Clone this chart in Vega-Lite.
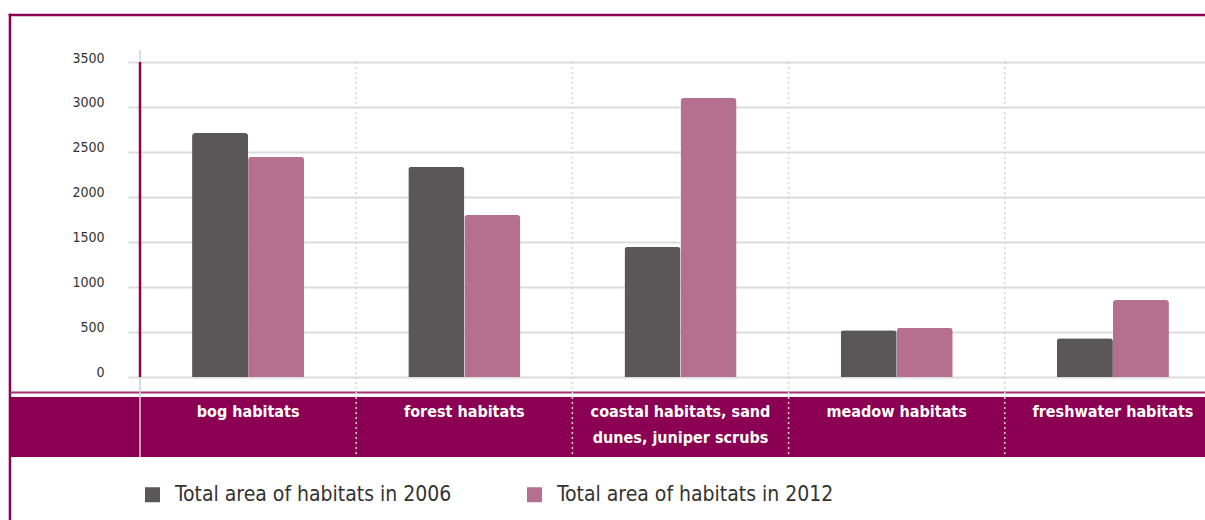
{
  "$schema": "https://vega.github.io/schema/vega-lite/v6.json",
  "autosize": {"type": "none"},
  "padding": {"left": 140, "top": 62, "right": 0, "bottom": 63},
  "width": 1065,
  "height": 395,
  "background": "white",
  "config": {
    "view": {"stroke": null},
    "font": "Liberation Sans Narrow, DejaVu Sans Condensed, sans-serif"
  },
  "resolve": {"scale": {"x": "independent"}, "axis": {"x": "independent"}},
  "datasets": {
    "bars": [
      {"category": "bog habitats", "series": "Total area of habitats in 2006", "value": 2710},
      {"category": "bog habitats", "series": "Total area of habitats in 2012", "value": 2445},
      {"category": "forest habitats", "series": "Total area of habitats in 2006", "value": 2335},
      {"category": "forest habitats", "series": "Total area of habitats in 2012", "value": 1800},
      {"category": "coastal habitats, sand dunes, juniper scrubs", "series": "Total area of habitats in 2006", "value": 1445},
      {"category": "coastal habitats, sand dunes, juniper scrubs", "series": "Total area of habitats in 2012", "value": 3100},
      {"category": "meadow habitats", "series": "Total area of habitats in 2006", "value": 520},
      {"category": "meadow habitats", "series": "Total area of habitats in 2012", "value": 545},
      {"category": "freshwater habitats", "series": "Total area of habitats in 2006", "value": 430},
      {"category": "freshwater habitats", "series": "Total area of habitats in 2012", "value": 855}
    ],
    "cats": [
      {"category": "bog habitats", "label": "bog habitats"},
      {"category": "forest habitats", "label": "forest habitats"},
      {"category": "coastal habitats, sand dunes, juniper scrubs", "label": "coastal habitats, sand\ndunes, juniper scrubs"},
      {"category": "meadow habitats", "label": "meadow habitats"},
      {"category": "freshwater habitats", "label": "freshwater habitats"}
    ],
    "one": [{"k": 1}]
  },
  "layer": [
    {
      "data": {"name": "one"},
      "mark": {"type": "rule", "color": "#8b0052", "strokeWidth": 2.5, "strokeCap": "square"},
      "encoding": {
        "x": {"datum": -0.1221, "type": "quantitative", "scale": {"domain": [0, 1], "nice": false, "zero": false}, "axis": null},
        "x2": {"datum": 1},
        "y": {"datum": 4022, "type": "quantitative", "scale": {"domain": [-888.9, 3500], "nice": false, "zero": false}}
      }
    },
    {
      "data": {"name": "one"},
      "mark": {"type": "rule", "color": "#8b0052", "strokeWidth": 2.5, "strokeCap": "square"},
      "encoding": {
        "x": {"datum": -0.1221, "type": "quantitative", "scale": {"domain": [0, 1], "nice": false, "zero": false}, "axis": null},
        "y": {"datum": 4022, "type": "quantitative"},
        "y2": {"datum": -1578}
      }
    },
    {
      "data": {"name": "one"},
      "mark": {"type": "rect", "color": "#8b0052"},
      "encoding": {
        "x": {"datum": -0.1221, "type": "quantitative", "scale": {"domain": [0, 1], "nice": false, "zero": false}, "axis": null},
        "x2": {"datum": 1},
        "y": {"datum": -222.2, "type": "quantitative"},
        "y2": {"datum": -888.9}
      }
    },
    {
      "data": {"name": "one"},
      "mark": {"type": "rule", "color": "#a3336f", "strokeWidth": 2},
      "encoding": {
        "x": {"datum": -0.1221, "type": "quantitative", "scale": {"domain": [0, 1], "nice": false, "zero": false}, "axis": null},
        "x2": {"datum": 1},
        "y": {"datum": -172.2, "type": "quantitative"}
      }
    },
    {
      "data": {"name": "bars"},
      "mark": {"type": "bar", "cornerRadiusTopLeft": 3, "cornerRadiusTopRight": 3},
      "encoding": {
        "x": {"field": "category", "type": "nominal", "axis": null,
              "scale": {"domain": ["bog habitats", "forest habitats", "coastal habitats, sand dunes, juniper scrubs", "meadow habitats", "freshwater habitats"], "paddingInner": 0, "paddingOuter": 0, "range": [0, 1081]}},
        "xOffset": {"field": "series", "type": "nominal", "scale": {"paddingInner": 0, "paddingOuter": 0.93}},
        "y": {
          "field": "value", "type": "quantitative", "title": null,
          "axis": {
            "values": [0, 500, 1000, 1500, 2000, 2500, 3000, 3500],
            "format": "d",
            "domain": false,
            "grid": true, "gridColor": "#dcdcdc", "gridWidth": 2,
            "ticks": true, "tickColor": "#dcdcdc", "tickWidth": 2, "tickSize": 12,
            "labelPadding": 24, "labelFontSize": 14, "labelColor": "#333333",
            "labelBaseline": "alphabetic", "labelFont": "Liberation Sans Narrow, DejaVu Sans Condensed, sans-serif"
          }
        },
        "color": {
          "field": "series", "type": "nominal",
          "scale": {"domain": ["Total area of habitats in 2006", "Total area of habitats in 2012"], "range": ["#5b5657", "#b5708f"]},
          "legend": {
            "title": null, "orient": "none", "legendX": 2, "legendY": 422,
            "direction": "horizontal", "symbolType": "square", "symbolSize": 225,
            "symbolStrokeWidth": 0, "labelFontSize": 21, "labelColor": "#333333",
            "labelFont": "Liberation Sans Narrow, DejaVu Sans Condensed, sans-serif",
            "labelOffset": 12, "labelLimit": 0, "columnPadding": 72
          }
        }
      }
    },
    {
      "data": {"name": "cats"},
      "transform": [{"filter": "datum.category != 'bog habitats'"}],
      "mark": {"type": "rule", "color": "#d5d5d5", "strokeWidth": 1.5, "strokeDash": [2, 3]},
      "encoding": {
        "x": {"field": "category", "type": "nominal", "bandPosition": 0, "axis": null,
              "scale": {"domain": ["bog habitats", "forest habitats", "coastal habitats, sand dunes, juniper scrubs", "meadow habitats", "freshwater habitats"], "paddingInner": 0, "paddingOuter": 0, "range": [0, 1081]}},
        "y": {"datum": 3500, "type": "quantitative"},
        "y2": {"datum": -888.9}
      }
    },
    {
      "data": {"name": "cats"},
      "transform": [{"filter": "datum.category == 'bog habitats'"}],
      "mark": {"type": "rule", "color": "#d0d0d0", "strokeWidth": 1.5},
      "encoding": {
        "x": {"field": "category", "type": "nominal", "bandPosition": 0, "axis": null,
              "scale": {"domain": ["bog habitats", "forest habitats", "coastal habitats, sand dunes, juniper scrubs", "meadow habitats", "freshwater habitats"], "paddingInner": 0, "paddingOuter": 0, "range": [0, 1081]}},
        "y": {"datum": 3633, "type": "quantitative"},
        "y2": {"datum": -888.9}
      }
    },
    {
      "data": {"name": "cats"},
      "transform": [{"filter": "datum.category == 'bog habitats'"}],
      "mark": {"type": "rule", "color": "#8b0052", "strokeWidth": 2.5},
      "encoding": {
        "x": {"field": "category", "type": "nominal", "bandPosition": 0, "axis": null,
              "scale": {"domain": ["bog habitats", "forest habitats", "coastal habitats, sand dunes, juniper scrubs", "meadow habitats", "freshwater habitats"], "paddingInner": 0, "paddingOuter": 0, "range": [0, 1081]}},
        "y": {"datum": 3500, "type": "quantitative"},
        "y2": {"datum": 0}
      }
    },
    {
      "data": {"name": "cats"},
      "mark": {"type": "text", "color": "white", "fontSize": 16, "fontWeight": "bold", "baseline": "top", "align": "center", "lineBreak": "\n", "lineHeight": 26, "font": "Liberation Sans Narrow, DejaVu Sans Condensed, sans-serif"},
      "encoding": {
        "x": {"field": "category", "type": "nominal", "axis": null,
              "scale": {"domain": ["bog habitats", "forest habitats", "coastal habitats, sand dunes, juniper scrubs", "meadow habitats", "freshwater habitats"], "paddingInner": 0, "paddingOuter": 0, "range": [0, 1081]}},
        "y": {"datum": -300, "type": "quantitative"},
        "text": {"field": "label", "type": "nominal"}
      }
    }
  ]
}
